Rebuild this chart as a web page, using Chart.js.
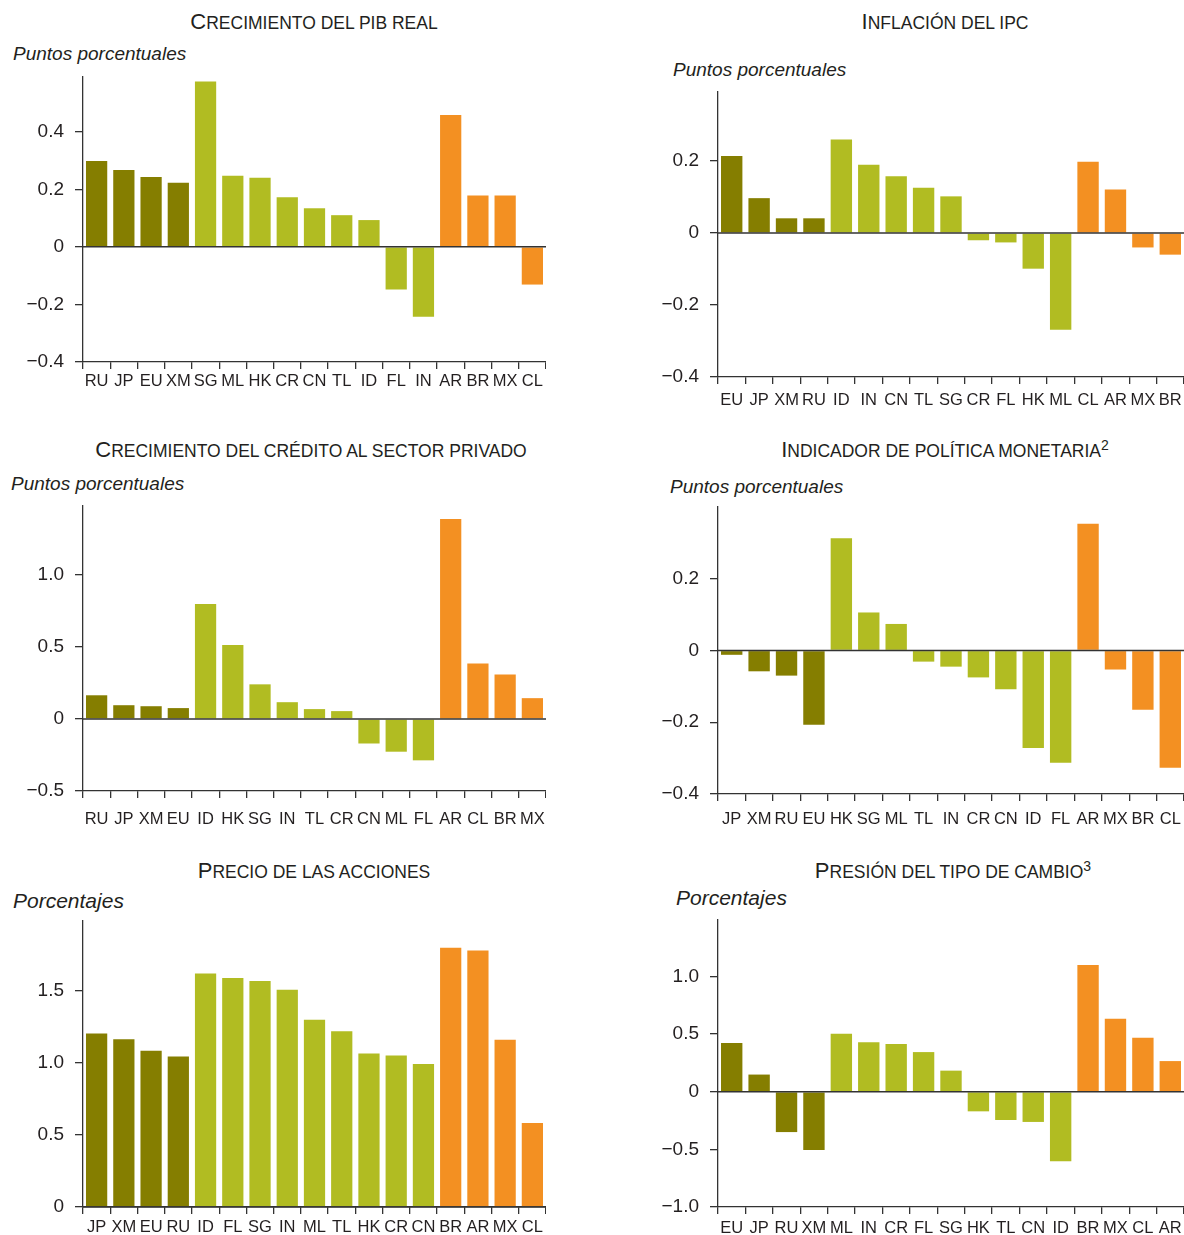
<!DOCTYPE html>
<html>
<head>
<meta charset="utf-8">
<script src="https://cdn.jsdelivr.net/npm/chart.js@4.4.1/dist/chart.umd.min.js"></script>
<style>
  body { margin: 0; width: 1184px; height: 1235px; overflow: hidden; background: #fff;
         font-family: "Liberation Sans", Arial, sans-serif; color: #231f20; }
  .box { position: absolute; }
  .ttl { position: absolute; width: 600px; text-align: center; font-size: 17.5px;
         line-height: 26px; white-space: nowrap; }
  .ttl b { font-weight: normal; font-size: 22px; }
  .ttl sup { font-size: 14px; vertical-align: top; position: relative; top: -5px; }
  .ylab { position: absolute; font-style: italic; font-size: 19px; line-height: 22px; white-space: nowrap; }
  .ylab.big { font-size: 21px; }
</style>
</head>
<body>

<div class="ttl" style="left:14px;top:9px"><b>C</b>RECIMIENTO DEL PIB REAL</div>
<div class="ylab" style="left:13px;top:43px">Puntos porcentuales</div>
<div class="box" style="left:0;top:65px;width:546px;height:342px"><canvas id="c-gdp"></canvas></div>

<div class="ttl" style="left:645px;top:9px"><b>I</b>NFLACIÓN DEL IPC</div>
<div class="ylab" style="left:673px;top:59px">Puntos porcentuales</div>
<div class="box" style="left:640px;top:80px;width:544px;height:342px"><canvas id="c-cpi"></canvas></div>

<div class="ttl" style="left:11px;top:437px"><b>C</b>RECIMIENTO DEL CRÉDITO AL SECTOR PRIVADO</div>
<div class="ylab" style="left:11px;top:473px">Puntos porcentuales</div>
<div class="box" style="left:0;top:494px;width:546px;height:342px"><canvas id="c-credit"></canvas></div>

<div class="ttl" style="left:645px;top:437px"><b>I</b>NDICADOR DE POLÍTICA MONETARIA<sup>2</sup></div>
<div class="ylab" style="left:670px;top:476px">Puntos porcentuales</div>
<div class="box" style="left:640px;top:495px;width:544px;height:344px"><canvas id="c-policy"></canvas></div>

<div class="ttl" style="left:14px;top:858px"><b>P</b>RECIO DE LAS ACCIONES</div>
<div class="ylab big" style="left:13px;top:890px">Porcentajes</div>
<div class="box" style="left:0;top:909px;width:546px;height:343px"><canvas id="c-stock"></canvas></div>

<div class="ttl" style="left:653px;top:858px"><b>P</b>RESIÓN DEL TIPO DE CAMBIO<sup>3</sup></div>
<div class="ylab big" style="left:676px;top:887px">Porcentajes</div>
<div class="box" style="left:640px;top:908px;width:544px;height:344px"><canvas id="c-fx"></canvas></div>

<script>
  // --- Country groups (colour by region) ---
  var advanced = ['RU', 'JP', 'EU', 'XM'];
  var asia = ['SG', 'ML', 'HK', 'CR', 'CN', 'TL', 'ID', 'FL', 'IN'];
  var latam = ['AR', 'BR', 'MX', 'CL'];

  // --- Crecimiento del PIB real ---
  var gdpCats = ['RU', 'JP', 'EU', 'XM', 'SG', 'ML', 'HK', 'CR', 'CN', 'TL', 'ID', 'FL', 'IN', 'AR', 'BR', 'MX', 'CL'];
  var gdpVals = [0.298, 0.267, 0.243, 0.223, 0.574, 0.247, 0.240, 0.172, 0.134, 0.110, 0.093, -0.148, -0.243, 0.458, 0.178, 0.178, -0.131];
  var gdpTicks = [-0.4, -0.2, 0, 0.2, 0.4];

  // --- Inflación del IPC ---
  var cpiCats = ['EU', 'JP', 'XM', 'RU', 'ID', 'IN', 'CN', 'TL', 'SG', 'CR', 'FL', 'HK', 'ML', 'CL', 'AR', 'MX', 'BR'];
  var cpiVals = [0.214, 0.097, 0.041, 0.041, 0.260, 0.190, 0.158, 0.126, 0.102, -0.020, -0.026, -0.099, -0.269, 0.198, 0.121, -0.040, -0.060];
  var cpiTicks = [-0.4, -0.2, 0, 0.2];

  // --- Crecimiento del crédito al sector privado ---
  var creditCats = ['RU', 'JP', 'XM', 'EU', 'ID', 'HK', 'SG', 'IN', 'TL', 'CR', 'CN', 'ML', 'FL', 'AR', 'CL', 'BR', 'MX'];
  var creditVals = [0.165, 0.096, 0.089, 0.076, 0.80, 0.515, 0.241, 0.117, 0.069, 0.055, -0.17, -0.227, -0.287, 1.39, 0.386, 0.31, 0.145];
  var creditTicks = [-0.5, 0, 0.5, 1.0];

  // --- Indicador de política monetaria ---
  var policyCats = ['JP', 'XM', 'RU', 'EU', 'HK', 'SG', 'ML', 'TL', 'IN', 'CR', 'CN', 'ID', 'FL', 'AR', 'MX', 'BR', 'CL'];
  var policyVals = [-0.012, -0.058, -0.070, -0.207, 0.313, 0.106, 0.074, -0.031, -0.045, -0.075, -0.108, -0.272, -0.313, 0.353, -0.053, -0.165, -0.327];
  var policyTicks = [-0.4, -0.2, 0, 0.2];

  // --- Precio de las acciones ---
  var stockCats = ['JP', 'XM', 'EU', 'RU', 'ID', 'FL', 'SG', 'IN', 'ML', 'TL', 'HK', 'CR', 'CN', 'BR', 'AR', 'MX', 'CL'];
  var stockVals = [1.205, 1.165, 1.085, 1.045, 1.62, 1.59, 1.568, 1.507, 1.30, 1.22, 1.065, 1.052, 0.993, 1.80, 1.78, 1.16, 0.583];
  var stockTicks = [0, 0.5, 1.0, 1.5];

  // --- Presión del tipo de cambio ---
  var fxCats = ['EU', 'JP', 'RU', 'XM', 'ML', 'IN', 'CR', 'FL', 'SG', 'HK', 'TL', 'CN', 'ID', 'BR', 'MX', 'CL', 'AR'];
  var fxVals = [0.423, 0.149, -0.35, -0.505, 0.503, 0.43, 0.414, 0.344, 0.183, -0.17, -0.245, -0.262, -0.604, 1.10, 0.633, 0.469, 0.266];
  var fxTicks = [-1.0, -0.5, 0, 0.5, 1.0];

  var colors = { adv: '#857e00', asia: '#b1bc22', latam: '#f39022', text: '#231f20', axis: '#333333' };

  function colorFor(code) {
    if (advanced.indexOf(code) >= 0) return colors.adv;
    if (latam.indexOf(code) >= 0) return colors.latam;
    return colors.asia;
  }

  function fmt(v) {
    if (v === 0) return '0';
    return (v < 0 ? '\u2212' : '') + Math.abs(v).toFixed(1);
  }

  // Plugin: dark zero line drawn over the bars
  var zeroLine = {
    id: 'zeroLine',
    afterDatasetsDraw: function (chart) {
      var y = chart.scales.y.getPixelForValue(0);
      var a = chart.chartArea;
      var ctx = chart.ctx;
      ctx.save();
      ctx.strokeStyle = colors.axis;
      ctx.lineWidth = 1.5;
      ctx.beginPath();
      ctx.moveTo(a.left, y);
      ctx.lineTo(a.right, y);
      ctx.stroke();
      ctx.restore();
    }
  };

  function makeChart(id, cats, vals, ticks, min, max, yw, labelPad) {
    var ctx = document.getElementById(id).getContext('2d');
    return new Chart(ctx, {
      type: 'bar',
      data: {
        labels: cats,
        datasets: [{
          data: vals,
          backgroundColor: cats.map(colorFor),
          borderWidth: 0,
          barPercentage: 0.78,
          categoryPercentage: 1
        }]
      },
      options: {
        responsive: true,
        maintainAspectRatio: false,
        animation: false,
        layout: { padding: { top: 12, right: 0, left: 0, bottom: 0 } },
        plugins: { legend: { display: false }, tooltip: { enabled: false } },
        scales: {
          x: {
            // fixed height, no extra side padding so the plot runs to the box edge
            afterFit: function (s) { s.height = 45; s.paddingLeft = 0; s.paddingRight = 0; },
            grid: { offset: true, drawOnChartArea: false, drawTicks: true, tickLength: 7, color: colors.axis, lineWidth: 1.3 },
            border: { color: colors.axis, width: 1.3 },
            ticks: {
              autoSkip: false, maxRotation: 0, minRotation: 0, padding: labelPad,
              color: colors.text,
              font: { family: '"Liberation Sans", Arial, sans-serif', size: 16.5 }
            }
          },
          y: {
            min: min,
            max: max,
            afterFit: function (s) { s.width = yw; s.paddingTop = 0; s.paddingBottom = 0; },
            afterBuildTicks: function (s) { s.ticks = ticks.map(function (v) { return { value: v }; }); },
            grid: { drawOnChartArea: false, drawTicks: true, tickLength: 8, color: colors.axis, lineWidth: 1.3 },
            border: { color: colors.axis, width: 1.3 },
            ticks: {
              padding: 11,
              color: colors.text,
              font: { family: '"Liberation Sans", Arial, sans-serif', size: 19 },
              callback: function (v) { return fmt(v); }
            }
          }
        }
      },
      plugins: [zeroLine]
    });
  }

  makeChart('c-gdp', gdpCats, gdpVals, gdpTicks, -0.4, 0.59, 83, 3);
  makeChart('c-cpi', cpiCats, cpiVals, cpiTicks, -0.4, 0.392, 78, 7);
  makeChart('c-credit', creditCats, creditVals, creditTicks, -0.5, 1.48, 83, 12);
  makeChart('c-policy', policyCats, policyVals, policyTicks, -0.4, 0.40, 78, 9);
  makeChart('c-stock', stockCats, stockVals, stockTicks, 0, 1.985, 83, 4);
  makeChart('c-fx', fxCats, fxVals, fxTicks, -1.0, 1.49, 78, 5);
</script>
</body>
</html>
